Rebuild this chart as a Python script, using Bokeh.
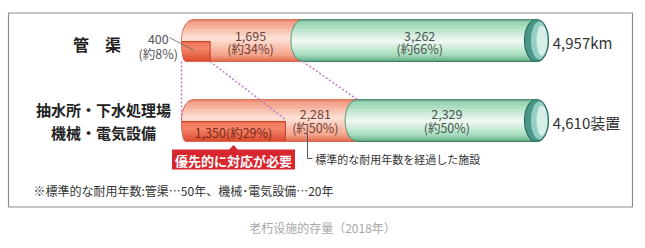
import numpy as np
from bokeh.plotting import figure
from bokeh.models import Range1d
from bokeh.core.properties import value
from bokeh.embed import file_html
from bokeh.resources import INLINE

# ---------------- data ----------------
row_names = [["管　渠"], ["抽水所・下水処理場", "機械・電気設備"]]
totals = [4957, 4610]
total_units = ["km", "装置"]
exceeded = [1695, 2281]          # past standard service life (red)
exceeded_pct = ["約34%", "約50%"]
within = [3262, 2329]            # within service life (green)
within_pct = ["約66%", "約50%"]
priority = [400, 1350]           # needs priority action (dark red)
priority_pct = ["約8%", "約29%"]
priority_label = "優先的に対応が必要"
bracket_label = "標準的な耐用年数を経過した施設"
footnote = "※標準的な耐用年数:管渠…50年、機械･電気設備…20年"
caption = "老朽设施的存量（2018年）"

# ---------------- layout ----------------
W, HC = 645, 248
PX = 3.55          # pixels per percent
X0 = 181           # pixel where 0% sits
RX = 12 / PX       # ellipse x-radius in percent units
RXB = 0.35 * RX
ROW_TOP = [19, 99]
CH = 42            # cylinder height in px

JP = value("Noto Sans CJK JP")
SC = value("Noto Sans CJK SC")

p = figure(width=W, height=HC, x_range=Range1d(-X0 / PX, (W - X0) / PX),
           y_range=Range1d(HC, 0), x_axis_type=None, y_axis_type=None,
           toolbar_location=None, output_backend="svg", min_border=0,
           outline_line_color=None, background_fill_color="white")
p.grid.visible = False


def hx(c):
    c = c.lstrip("#")
    return np.array([int(c[i:i + 2], 16) for i in (0, 2, 4)], dtype=float)


def color_at(t, stops):
    ts = [s[0] for s in stops]
    cs = np.array([hx(s[1]) for s in stops])
    rgb = [np.interp(t, ts, cs[:, i]) for i in range(3)]
    return "#%02x%02x%02x" % tuple(int(round(v)) for v in rgb)


def half_w(y, yc, ry, r):
    q = 1 - ((y - yc) / ry) ** 2
    return r * np.sqrt(max(0.0, q))


RED = [(0, "#e47a62"), (0.07, "#f39b82"), (0.45, "#fde2d7"), (0.85, "#f4a389"), (1, "#e0674c")]
GREEN = [(0, "#5e9c80"), (0.07, "#93d4b0"), (0.52, "#f1f9f4"), (0.86, "#a2dbbb"), (1, "#5da885")]
DARK = [(0, "#ee6a4c"), (0.35, "#f6866a"), (1, "#db4a2e")]


def bands(y_top, y_bot, n, xl, xr, stops):
    xs, ys, cols = [], [], []
    for k in range(n):
        ya = y_top + (y_bot - y_top) * k / n
        yb = y_top + (y_bot - y_top) * (k + 1) / n
        xs.append([xl(ya), xr(ya), xr(yb), xl(yb)])
        ys.append([ya, ya, yb, yb])
        cols.append(color_at((k + 0.5) / n, stops))
    p.patches(xs, ys, fill_color=cols, line_color=cols, line_width=0.6)


# frame box
p.quad(left=[(8 - X0) / PX], right=[(632 - X0) / PX], top=[12.5], bottom=[206.5],
       fill_color=None, line_color="#8c8c8c", line_width=1.2)

conn = []
for i in range(2):
    top = ROW_TOP[i]
    bot = top + CH
    yc = top + CH / 2
    ry = CH / 2
    b = exceeded[i] / totals[i] * 100
    d = priority[i] / totals[i] * 100

    def left(y, yc=yc, ry=ry):
        if y <= yc:
            return RX - half_w(y, yc, ry, RX)
        return RXB - half_w(y, yc, ry, RXB)

    def bnd(y, b=b, yc=yc, ry=ry):
        return b - half_w(y, yc, ry, RX)

    # red body
    bands(top, bot, 30, left, bnd, RED)
    # green body
    bands(top, bot, 30, bnd, lambda y: 100.0, GREEN)
    # dark priority segment
    yd = yc + 1
    bands(yd, bot, 12, left, lambda y, d=d: d, DARK)

    # outlines
    ycurve = np.linspace(top, bot, 40)
    p.line([left(y) for y in ycurve] + [b], list(ycurve) + [bot], line_color="#d86a50", line_width=1)
    p.line([left(top), b], [top, top], line_color="#d8765c", line_width=1)
    p.line([b, 100], [top, top], line_color="#4f8a72", line_width=1.2)
    p.line([b, 100], [bot, bot], line_color="#3f7d63", line_width=1.2)
    p.line([bnd(y) for y in ycurve], list(ycurve), line_color="#4f8f72", line_width=1)
    p.line([left(yd), d, d], [yd, yd, bot], line_color="#c9442c", line_width=1)

    # end cap
    p.ellipse(x=[100], y=[yc], width=2 * RX, height=CH, fill_color="#4a978a", line_color=None)
    p.ellipse(x=[100 + 0.25 * RX], y=[yc], width=1.45 * RX, height=CH * 0.9, fill_color="#94cfc3", line_color=None)
    p.ellipse(x=[100 + 0.45 * RX], y=[yc], width=0.9 * RX, height=CH * 0.72, fill_color="#d6eee8", line_color=None)
    p.ellipse(x=[100], y=[yc], width=2 * RX, height=CH, fill_color=None, line_color="#2f6f62", line_width=1.2)

    conn.append(dict(top=top, bot=bot, yc=yc, b=b, d=d))

    # value labels
    xr_lab = (d + b) / 2 - RX / 2
    xg_lab = (b + 100) / 2
    dy1, dy2 = (-5, 8) if i == 0 else (-7, 7)
    p.text(x=[xr_lab, xr_lab], y=[yc + dy1, yc + dy2],
           text=[f"{exceeded[i]:,}", f"({exceeded_pct[i]})"],
           text_font=JP, text_font_size="12.5px", text_color="#6e4036",
           text_align="center", text_baseline="middle")
    p.text(x=[xg_lab, xg_lab], y=[yc + dy1, yc + dy2],
           text=[f"{within[i]:,}", f"({within_pct[i]})"],
           text_font=JP, text_font_size="12.5px", text_color="#4a5550",
           text_align="center", text_baseline="middle")
    # totals
    p.text(x=[100 + RX + 1.2], y=[yc + 2], text=[f"{totals[i]:,}{total_units[i]}"],
           text_font=JP, text_font_size="15px", text_color="#333333",
           text_align="left", text_baseline="middle")

# row names
p.text(x=[-23.8], y=[conn[0]["yc"] + 3], text=[row_names[0][0]], text_font=JP,
       text_font_size="16px", text_font_style="bold", text_color="#222222",
       text_align="center", text_baseline="middle")
p.text(x=[-22, -22], y=[conn[1]["yc"] - 11.5, conn[1]["yc"] + 11.5], text=row_names[1],
       text_font=JP, text_font_size="15px", text_font_style="bold", text_color="#222222",
       text_align="center", text_baseline="middle")

# top-row priority label (outside)
c0, c1 = conn
p.text(x=[-3.6], y=[38.5], text=[f"{priority[0]:,}"], text_font=JP, text_font_size="12.5px",
       text_color="#555555", text_align="right", text_baseline="middle")
p.text(x=[-1.0], y=[52.5], text=[f"({priority_pct[0]})"], text_font=JP, text_font_size="12.5px",
       text_color="#555555", text_align="right", text_baseline="middle")
p.line([-3.4, c0["d"] * 0.45], [37, 50], line_color="#666666", line_width=0.8)

# bottom-row priority label (inside)
p.text(x=[c1["d"] / 2], y=[(c1["yc"] + 1 + c1["bot"]) / 2 + 0.5],
       text=[f"{priority[1]:,}({priority_pct[1]})"], text_font=JP, text_font_size="12.5px",
       text_color="#7a2a1c", text_align="center", text_baseline="middle")

# connectors
p.segment(x0=[0, c0["d"], c0["b"]], y0=[c0["bot"]] * 3,
          x1=[0, c1["d"], c1["b"]], y1=[c1["yc"] - 1, c1["yc"] - 1, c1["top"]],
          line_color="#c27cc4", line_width=1.5, line_dash="2 2")

# priority box
cx = c1["d"] / 2
hw = 123 / 2 / PX
p.quad(left=[cx - hw], right=[cx + hw], top=[149], bottom=[169], fill_color="#d7262e", line_color=None)
p.patch([cx - 1.3, cx + 1.3, cx], [149.5, 149.5, 144.5], fill_color="#d7262e", line_color=None)
p.text(x=[cx], y=[159.5], text=[priority_label], text_font=JP, text_font_size="13px",
       text_font_style="bold", text_color="white", text_align="center", text_baseline="middle")

# bracket
bx = c1["d"] + 6.2
p.line([bx, bx, bx + 1.4], [133, 158, 158], line_color="#555555", line_width=1)
p.text(x=[bx + 2.2], y=[158], text=[bracket_label], text_font=JP, text_font_size="11px",
       text_color="#333333", text_align="left", text_baseline="middle")

# footnote
p.text(x=[(33 - X0) / PX], y=[190], text=[footnote], text_font=JP, text_font_size="12px",
       text_color="#333333", text_align="left", text_baseline="middle")

# caption
p.text(x=[(322 - X0) / PX], y=[227], text=[caption], text_font=SC, text_font_size="12px",
       text_color="#a8a8a8", text_align="center", text_baseline="middle")

open("out.html", "w").write(file_html(p, INLINE))
